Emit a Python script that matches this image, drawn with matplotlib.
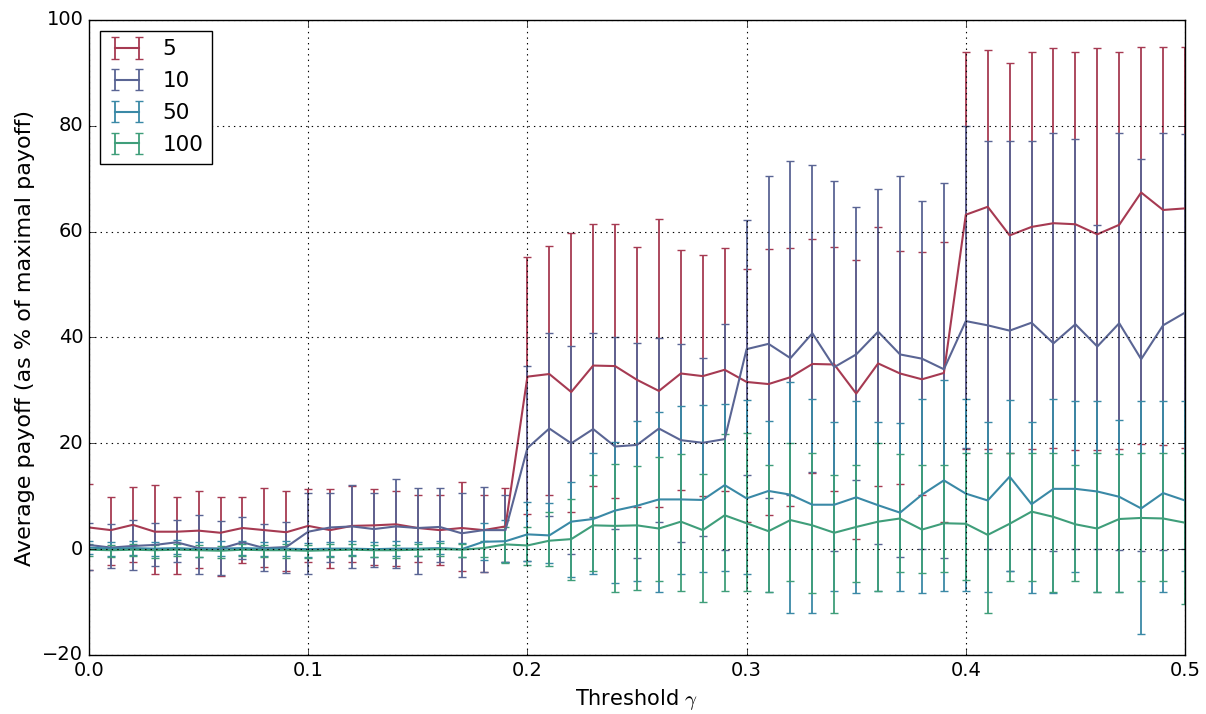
import numpy as np
import matplotlib
matplotlib.use("Agg")
import matplotlib.pyplot as plt

plt.style.use("classic")

# threshold values (x axis)
gamma = np.linspace(0.0, 0.5, 51)

# ---- series "5" ----
m5 = [4.1, 3.6, 4.6, 3.3, 3.3, 3.5, 3.1, 4.0, 3.6, 3.2, 4.4, 3.6, 4.4, 4.5, 4.7, 4.0, 3.6, 4.0, 3.6, 4.3,
      32.6, 33.1, 29.7, 34.7, 34.6, 32.0, 29.9, 33.2, 32.7, 33.9,
      31.6, 31.2, 32.5, 35.0, 34.9, 29.4, 35.1, 33.2, 32.1, 33.3,
      63.2, 64.7, 59.3, 60.9, 61.6, 61.4, 59.5, 61.3, 67.4, 64.1, 64.4]
hi5 = [12.3, 9.8, 11.7, 12.1, 9.9, 11.0, 9.8, 9.9, 11.5, 10.9, 11.3, 11.3, 12.0, 11.3, 11.0, 10.2, 10.2, 12.7, 10.2, 11.5,
       55.2, 57.2, 59.7, 61.4, 61.4, 57.1, 62.3, 56.6, 55.5, 56.9,
       52.9, 56.8, 56.9, 58.6, 57.1, 54.6, 60.8, 56.4, 56.2, 58.0,
       94.0, 94.3, 91.9, 94.0, 94.8, 94.0, 94.8, 94.0, 94.9, 94.9, 94.9]
lo5 = [-4.0, -3.0, -2.5, -4.6, -4.6, -3.5, -5.0, -2.7, -3.3, -4.1, -2.5, -3.6, -2.4, -2.9, -3.1, -2.5, -3.0, -4.1, -4.3, -2.4,
       6.7, 10.3, 7.0, 12.0, 9.6, 7.9, 8.0, 11.1, 10.1, 11.0,
       5.2, 6.4, 8.1, 14.3, 11.0, 2.0, 11.9, 12.4, 10.3, 5.2,
       19.0, 19.0, 18.2, 18.9, 19.2, 18.8, 18.8, 19.0, 19.9, 19.6, 19.2]

# ---- series "10" ----
m10 = [0.8, 0.3, 0.6, 0.8, 1.3, 0.2, 0.1, 1.3, 0.2, 0.4, 3.3, 4.1, 4.3, 3.8, 4.3, 4.0, 4.2, 3.0, 3.6, 3.6,
       19.1, 22.8, 20.0, 22.7, 19.4, 19.7, 22.8, 20.6, 20.1, 20.8,
       37.8, 38.8, 36.1, 40.8, 34.4, 36.8, 41.1, 36.8, 36.0, 34.0,
       43.1, 42.3, 41.3, 42.8, 38.9, 42.5, 38.3, 42.7, 35.9, 42.3, 44.7]
hi10 = [5.0, 4.7, 5.6, 5.0, 5.5, 6.4, 5.3, 6.0, 4.7, 5.2, 10.7, 10.7, 12.2, 10.7, 13.3, 11.5, 11.6, 10.7, 11.8, 10.3,
        34.6, 40.9, 38.4, 40.8, 40.0, 38.9, 39.9, 38.8, 36.2, 42.5,
        62.2, 70.5, 73.3, 72.6, 69.5, 64.7, 68.1, 70.5, 65.8, 69.2,
        80.0, 77.2, 77.1, 77.1, 78.7, 77.6, 61.2, 78.6, 73.7, 78.7, 78.5]
lo10 = [-4.0, -3.6, -4.0, -3.1, -2.4, -4.7, -4.9, -1.9, -4.1, -4.5, -4.6, -2.4, -3.5, -3.3, -3.5, -4.7, -2.4, -5.3, -4.3, -2.4,
        -2.2, 6.3, -0.9, 6.0, 3.9, -1.6, 5.2, 1.4, 2.5, -0.1,
        14.0, 9.7, 10.2, 14.6, -0.3, 13.1, 0.9, -1.4, 0.0, -1.7,
        19.1, 0.0, -4.1, 0.0, -0.3, 0.0, 0.0, -0.2, -0.3, -0.1, 0.0]

# ---- series "50" ----
m50 = [0.3, 0.1, 0.2, 0.1, 0.2, 0.0, 0.1, 0.2, 0.1, 0.1, 0.0, 0.1, 0.1, 0.0, 0.1, 0.1, 0.2, 0.0, 1.4, 1.5,
       2.8, 2.6, 5.2, 5.7, 7.3, 8.2, 9.4, 9.4, 9.3, 12.1,
       9.6, 11.0, 10.3, 8.4, 8.4, 9.8, 8.3, 6.9, 10.3, 13.0,
       10.5, 9.2, 13.7, 8.5, 11.4, 11.4, 10.9, 9.9, 7.7, 10.6, 9.2]
hi50 = [1.5, 1.3, 1.6, 1.4, 1.7, 1.3, 1.5, 1.6, 1.4, 1.5, 1.2, 1.4, 1.5, 1.3, 1.5, 1.4, 1.6, 1.2, 4.9, 5.5,
        9.0, 8.8, 12.7, 18.2, 20.3, 24.3, 25.9, 27.0, 27.3, 27.5,
        28.1, 24.2, 31.6, 28.4, 24.0, 28.0, 24.0, 23.8, 28.4, 32.0,
        28.4, 24.0, 28.1, 24.0, 28.4, 28.0, 28.0, 24.4, 28.0, 28.0, 28.0]
lo50 = [-1.0, -1.2, -1.1, -1.3, -1.0, -1.4, -1.2, -1.1, -1.3, -1.2, -1.4, -1.2, -1.1, -1.4, -1.2, -1.3, -1.0, -1.4, -2.0, -2.4,
        -2.2, -2.6, -5.2, -4.7, -6.3, -6.1, -8.1, -4.6, -4.4, -4.1,
        -4.7, -8.1, -12.0, -12.0, -7.9, -8.3, -7.9, -7.9, -8.2, -7.9,
        -7.9, -8.0, -4.1, -8.3, -8.3, -4.4, -8.0, -8.1, -16.0, -8.0, -4.1]

# ---- series "100" ----
m100 = [-0.1, -0.2, -0.1, -0.2, -0.1, -0.2, -0.3, -0.1, -0.2, -0.2, -0.3, -0.2, -0.1, -0.2, -0.2, -0.1, 0.0, -0.1, 0.2, 0.9,
        0.7, 1.6, 1.9, 4.5, 4.4, 4.5, 3.9, 5.2, 3.6, 6.4,
        4.9, 3.4, 5.5, 4.5, 3.1, 4.2, 5.2, 5.8, 3.7, 4.9,
        4.8, 2.7, 4.8, 7.1, 6.1, 4.7, 3.9, 5.7, 5.9, 5.8, 5.0]
hi100 = [0.9, 0.8, 1.0, 0.7, 0.9, 0.8, 0.6, 1.0, 0.8, 0.9, 0.7, 0.9, 1.0, 0.8, 0.8, 0.9, 1.1, 0.9, 1.6, 4.2,
         4.2, 7.1, 9.4, 14.0, 16.0, 15.7, 17.4, 17.9, 14.2, 21.7,
         22.0, 15.9, 20.1, 18.2, 14.0, 15.9, 20.0, 18.0, 15.9, 15.9,
         18.2, 18.1, 18.2, 18.2, 18.1, 15.9, 18.1, 18.0, 18.2, 18.1, 18.1]
lo100 = [-1.2, -1.5, -1.3, -1.6, -1.3, -1.5, -1.7, -1.2, -1.4, -1.6, -1.7, -1.4, -1.3, -1.5, -1.6, -1.3, -1.2, -1.4, -1.5, -2.6,
         -3.0, -3.1, -5.9, -4.2, -8.1, -7.7, -6.0, -7.9, -9.9, -7.9,
         -7.9, -8.0, -6.0, -8.2, -12.0, -6.2, -7.9, -4.3, -4.5, -4.4,
         -5.9, -12.0, -6.0, -6.0, -8.0, -6.0, -8.0, -8.1, -6.0, -6.0, -10.3]

labels = ["5", "10", "50", "100"]
colors = ["#a63a52", "#5a6594", "#3a89a6", "#3f9e7a"]
series = [(m5, lo5, hi5), (m10, lo10, hi10), (m50, lo50, hi50), (m100, lo100, hi100)]

fig = plt.figure(figsize=(12.06, 7.14), dpi=100, facecolor="white")
ax = fig.add_axes([89 / 1206, 1 - 655 / 714, (1185 - 89) / 1206, (655 - 20) / 714])

for (m, lo, hi), lab, col in zip(series, labels, colors):
    m = np.array(m)
    yerr = [m - np.array(lo), np.array(hi) - m]
    ax.errorbar(gamma, m, yerr=yerr, color=col, ecolor=col, lw=1.5, elinewidth=1.3,
                capsize=3, capthick=1, label=lab)

ax.set_xlim(0, 0.5)
ax.set_ylim(-20, 100)
ax.set_xticks([0.0, 0.1, 0.2, 0.3, 0.4, 0.5])
ax.set_yticks([-20, 0, 20, 40, 60, 80, 100])
ax.tick_params(labelsize=14)
ax.grid(True, linestyle=":", color="black", linewidth=0.8)
ax.set_xlabel(r"Threshold $\gamma$", fontsize=15)
ax.set_ylabel("Average payoff (as % of maximal payoff)", fontsize=16)
ax.legend(loc="upper left", numpoints=2, fontsize=15.5, labelspacing=0.55,
          handlelength=1.7)

fig.savefig("out.png", dpi=100, facecolor="white")
